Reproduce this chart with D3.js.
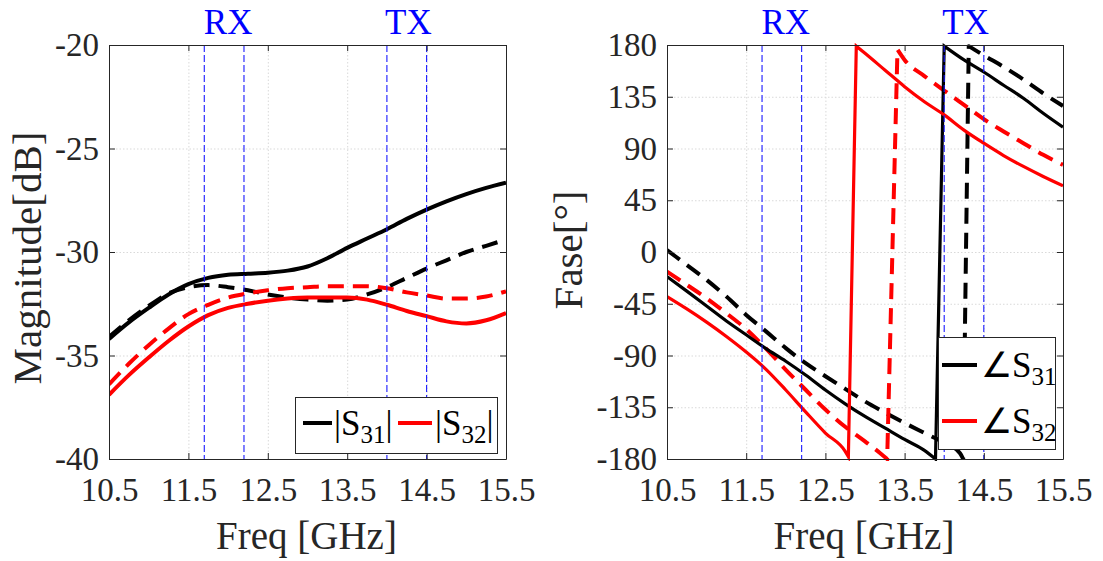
<!DOCTYPE html>
<html><head><meta charset="utf-8">
<script src="https://cdn.jsdelivr.net/npm/d3@7"></script>
<style>body{margin:0;background:#fff}svg{display:block}</style>
</head><body><svg id="c" width="1103" height="561"></svg>
<script>
// ---------- data ----------
const freqMag = [10.5,10.75,11.0,11.25,11.5,11.75,12.0,12.25,12.5,12.75,13.0,13.25,13.5,13.75,14.0,14.25,14.5,14.75,15.0,15.25,15.5];
const magS31Sim  = [-34.2,-33.4,-32.7,-32.05,-31.55,-31.25,-31.1,-31.05,-31.0,-30.9,-30.7,-30.3,-29.8,-29.35,-28.9,-28.4,-27.95,-27.55,-27.2,-26.9,-26.65];
const magS31Meas = [-34.1,-33.3,-32.6,-32.0,-31.7,-31.6,-31.7,-31.85,-32.05,-32.2,-32.3,-32.35,-32.3,-32.05,-31.7,-31.25,-30.8,-30.4,-30.0,-29.7,-29.4];
const magS32Sim  = [-36.9,-35.95,-35.1,-34.3,-33.6,-33.05,-32.7,-32.5,-32.35,-32.25,-32.2,-32.2,-32.2,-32.3,-32.55,-32.85,-33.1,-33.35,-33.45,-33.3,-32.95];
const magS32Meas = [-36.4,-35.4,-34.5,-33.7,-33.0,-32.55,-32.2,-32.0,-31.85,-31.75,-31.7,-31.65,-31.65,-31.65,-31.75,-31.95,-32.1,-32.25,-32.25,-32.15,-31.9];

const freqPhS31Sim = [10.5,10.75,11.0,11.25,11.5,11.75,12.0,12.25,12.5,12.75,13.0,13.25,13.5,13.75,13.89,14.0,14.25,14.5,14.75,15.0,15.25,15.5];
const phS31Sim     = [-21.4,-34,-47,-60,-72,-84,-95,-107,-120,-132,-143,-153,-163,-172.5,-180,179,167,156.5,145,133.7,120.7,108.6];
const freqPhS31Meas = [10.5,10.75,11.0,11.25,11.5,11.75,12.0,12.25,12.5,12.75,13.0,13.25,13.5,13.75,14.0,14.2,14.24,14.31,14.5,14.75,15.0,15.25,15.5];
const phS31Meas     = [1.7,-11.3,-24.3,-38.8,-54.7,-69,-83.6,-96.7,-108,-119,-130,-139.5,-148.7,-157.4,-166,-175,-180,179,171,161,150,138,127];
const freqPhS32Sim = [10.5,10.75,11.0,11.25,11.5,11.75,12.0,12.25,12.5,12.75,12.79,12.89,13.0,13.25,13.5,13.75,14.0,14.25,14.5,14.75,15.0,15.25,15.5];
const phS32Sim     = [-38.8,-49.5,-61,-73.5,-87,-102,-120,-139,-157.4,-173.3,-178,179,172.8,158.3,143.8,130.7,119.2,106,94.6,83.9,74.4,65.7,57.6];
const freqPhS32Meas = [10.5,10.75,11.0,11.25,11.5,11.75,12.0,12.25,12.5,12.75,13.0,13.2,13.28,13.41,13.5,13.75,14.0,14.25,14.5,14.75,15.0,15.25,15.5];
const phS32Meas     = [-17,-28.6,-40.2,-53.3,-67,-84,-102.4,-119.8,-137,-152,-164.7,-175.4,-180,176,167,153,140.4,128,115.5,104.8,94.6,84.5,75.8];

const bandRX = [11.7, 12.2];
const bandTX = [14.0, 14.5];
const bandLabels = ["RX", "TX"];
const bandLabelFreq = [12.0, 14.27];
const xTicks = [10.5, 11.5, 12.5, 13.5, 14.5, 15.5];
const magTicks = [-40, -35, -30, -25, -20];
const phaseTicks = [-180, -135, -90, -45, 0, 45, 90, 135, 180];
const xLabel = "Freq [GHz]";
const magLabel = "Magnitude[dB]";
const phaseLabel = "Fase[°]";

// ---------- drawing ----------
const AX = "#262626";
const FAM = "Tinos";
const svg = d3.select("#c");

function T(parent, size) {
  return parent.append("text").style("font-family", FAM).style("font-size", size + "px");
}

function wrappedPath(pts, x, y, curve) {
  const segs = [[pts[0]]];
  for (let i = 1; i < pts.length; i++) {
    if (Math.abs(pts[i][1] - pts[i - 1][1]) > 180) segs.push([]);
    segs[segs.length - 1].push(pts[i]);
  }
  const ln = d3.line().x(d => x(d[0])).y(d => y(d[1])).curve(curve);
  return segs.map((s, i) => { const d = ln(s); return i ? d.replace(/^M/, "L") : d; }).join("");
}

function panel(cfg) {
  const x = d3.scaleLinear().domain([10.5, 15.5]).range([cfg.x0, cfg.x1]);
  const y = d3.scaleLinear().domain(cfg.yDomain).range([cfg.y1, cfg.y0]);
  const g = svg.append("g");
  const W = cfg.x1 - cfg.x0, H = cfg.y1 - cfg.y0;

  const gridStyle = s => { s.select(".domain").remove(); s.selectAll("text").remove(); s.selectAll("line").attr("stroke", "#d9d9d9").attr("stroke-dasharray", "1.5,2"); };
  g.append("g").attr("transform", `translate(0,${cfg.y1})`)
    .call(d3.axisBottom(x).tickValues(xTicks).tickSize(-H).tickFormat("")).call(gridStyle);
  g.append("g").attr("transform", `translate(${cfg.x0},0)`)
    .call(d3.axisLeft(y).tickValues(cfg.yTicks).tickSize(-W).tickFormat("")).call(gridStyle);

  const clipId = "clip" + cfg.id;
  svg.append("clipPath").attr("id", clipId).append("rect")
    .attr("x", cfg.x0).attr("y", cfg.y0 - 2).attr("width", W).attr("height", H + 4);
  const plot = g.append("g").attr("clip-path", `url(#${clipId})`);

  cfg.series.forEach(s => {
    const pts = s.f.map((f, i) => [f, s.v[i]]);
    plot.append("path")
      .attr("fill", "none").attr("stroke", s.color).attr("stroke-width", s.w)
      .attr("stroke-dasharray", s.dash || null)
      .attr("stroke-linejoin", "miter")
      .attr("d", wrappedPath(pts, x, y, d3.curveMonotoneX));
  });

  [bandRX, bandTX].forEach(b => b.forEach(f => {
    g.append("line").attr("x1", x(f)).attr("x2", x(f)).attr("y1", cfg.y0).attr("y2", cfg.y1)
      .attr("stroke", "#1a1aff").attr("stroke-width", 1.1).attr("stroke-dasharray", "7,3");
  }));
  bandLabels.forEach((t, i) => {
    T(g, 35).attr("x", x(bandLabelFreq[i])).attr("y", 34).attr("text-anchor", "middle").attr("fill", "#0000ff").text(t);
  });

  const fmtX = d => d.toFixed(1);
  const fmtY = d => String(d);
  const styleAxis = s => {
    s.attr("font-family", null).attr("font-size", null);
    s.select(".domain").attr("stroke", AX);
    s.selectAll(".tick line").attr("stroke", AX);
    s.selectAll("text").style("font-family", FAM).style("font-size", "33px").attr("fill", AX);
  };
  g.append("g").attr("transform", `translate(0,${cfg.y1})`)
    .call(d3.axisBottom(x).tickValues(xTicks).tickSize(-6).tickSizeOuter(0).tickPadding(19).tickFormat(fmtX))
    .call(styleAxis);
  g.append("g").attr("transform", `translate(0,${cfg.y0})`)
    .call(d3.axisTop(x).tickValues(xTicks).tickSize(-6).tickSizeOuter(0).tickFormat(""))
    .call(s => s.selectAll("text").remove()).call(styleAxis);
  g.append("g").attr("transform", `translate(${cfg.x0},0)`)
    .call(d3.axisLeft(y).tickValues(cfg.yTicks).tickSize(-6).tickSizeOuter(0).tickPadding(10).tickFormat(fmtY))
    .call(styleAxis);
  g.append("g").attr("transform", `translate(${cfg.x1},0)`)
    .call(d3.axisRight(y).tickValues(cfg.yTicks).tickSize(-6).tickSizeOuter(0).tickFormat(""))
    .call(s => s.selectAll("text").remove()).call(styleAxis);

  T(g, 39).attr("x", (cfg.x0 + cfg.x1) / 2 - 1).attr("y", 549).attr("text-anchor", "middle").attr("fill", AX).text(xLabel);
  T(g, 41).attr("transform", `translate(${cfg.ylx},${cfg.yly}) rotate(-90)`).attr("text-anchor", "middle").attr("fill", AX).text(cfg.yLabel);
}

panel({
  id: "L", x0: 109, x1: 506, y0: 45, y1: 459,
  yDomain: [-40, -20], yTicks: magTicks, yLabel: magLabel, ylx: 41, yly: 258,
  series: [
    { f: freqMag, v: magS31Meas, color: "#000", w: 4, dash: "16,9" },
    { f: freqMag, v: magS32Meas, color: "#ff0000", w: 4, dash: "16,9" },
    { f: freqMag, v: magS31Sim, color: "#000", w: 4 },
    { f: freqMag, v: magS32Sim, color: "#ff0000", w: 4 }
  ]
});

panel({
  id: "R", x0: 667, x1: 1063, y0: 45, y1: 459,
  yDomain: [-180, 180], yTicks: phaseTicks, yLabel: phaseLabel, ylx: 582, yly: 250,
  series: [
    { f: freqPhS31Meas, v: phS31Meas, color: "#000", w: 4, dash: "16,9" },
    { f: freqPhS32Meas, v: phS32Meas, color: "#ff0000", w: 4, dash: "16,9" },
    { f: freqPhS31Sim, v: phS31Sim, color: "#000", w: 3.2 },
    { f: freqPhS32Sim, v: phS32Sim, color: "#ff0000", w: 3.2 }
  ]
});

// ---------- legends ----------
function legendText(parent, x, y, pre, sub, post) {
  const t = T(parent, 35).attr("x", x).attr("y", y).attr("fill", "#000");
  t.append("tspan").text(pre);
  t.append("tspan").style("font-size", "25px").attr("dy", 8).text(sub);
  if (post) t.append("tspan").style("font-size", "35px").attr("dy", -8).text(post);
}
const lg = svg.append("g");
lg.append("rect").attr("x", 295.5).attr("y", 397.5).attr("width", 202).attr("height", 56)
  .attr("fill", "#fff").attr("stroke", AX).attr("stroke-width", 1);
lg.append("line").attr("x1", 303).attr("x2", 332).attr("y1", 423).attr("y2", 423).attr("stroke", "#000").attr("stroke-width", 4);
legendText(lg, 334, 435, "|S", "31", "|");
lg.append("line").attr("x1", 398).attr("x2", 432).attr("y1", 423).attr("y2", 423).attr("stroke", "#ff0000").attr("stroke-width", 4);
legendText(lg, 435, 435, "|S", "32", "|");

const rg = svg.append("g");
rg.append("rect").attr("x", 938.5).attr("y", 337.5).attr("width", 117).attr("height", 112)
  .attr("fill", "#fff").attr("stroke", AX).attr("stroke-width", 1);
rg.append("line").attr("x1", 942).attr("x2", 977).attr("y1", 365).attr("y2", 365).attr("stroke", "#000").attr("stroke-width", 4);
legendText(rg, 981, 377, "∠S", "31", null);
rg.append("line").attr("x1", 942).attr("x2", 977).attr("y1", 421).attr("y2", 421).attr("stroke", "#ff0000").attr("stroke-width", 4);
legendText(rg, 981, 433, "∠S", "32", null);
</script>
</body></html>
